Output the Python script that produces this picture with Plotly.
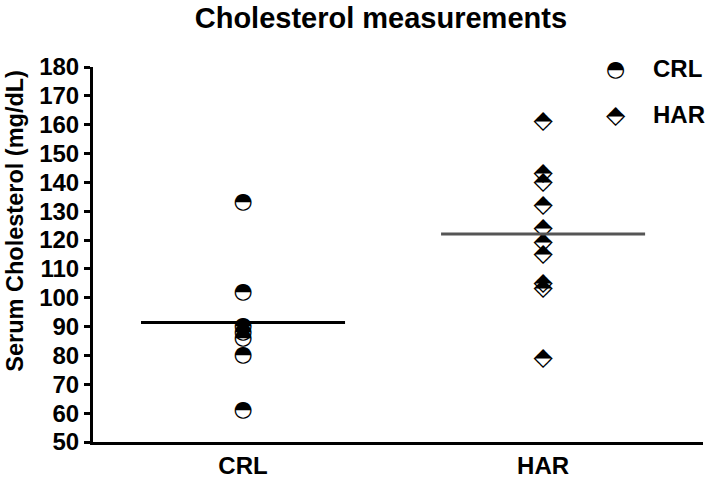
import plotly.graph_objects as go
import numpy as np

groups = ["CRL", "HAR"]
crl_values = [133, 102, 90, 88, 86, 80, 61]
har_values = [161, 143, 140, 132, 124, 119, 115, 105, 103, 79]
y_ticks = list(range(50, 181, 10))

glyphs = {"CRL": "\u25D3", "HAR": "\u2B18"}
glyph_sizes = {"CRL": 22, "HAR": 25}
line_colors = {"CRL": "#000000", "HAR": "#555555"}
series = {"CRL": crl_values, "HAR": har_values}

FONT = "Liberation Sans, Arial, sans-serif"
GLYPH_FONT = "DejaVu Sans"

fig = go.Figure()
for i, g in enumerate(groups):
    vals = series[g]
    fig.add_trace(go.Scatter(
        x=[i] * len(vals), y=vals, mode="text", text=[glyphs[g]] * len(vals),
        textfont=dict(family=GLYPH_FONT, size=glyph_sizes[g], color="black"),
        textposition="middle center", showlegend=False, hoverinfo="y"))
    m = float(np.mean(vals))
    fig.add_trace(go.Scatter(
        x=[i - 0.34, i + 0.34], y=[m, m], mode="lines",
        line=dict(color=line_colors[g], width=3), showlegend=False))

# legend drawn as annotations
for k, g in enumerate(groups):
    yy = 0.997 - k * 0.124
    fig.add_annotation(xref="paper", yref="paper", x=0.857, y=yy, text=glyphs[g],
                       showarrow=False, font=dict(family=GLYPH_FONT, size=glyph_sizes[g], color="black"),
                       xanchor="center", yanchor="middle")
    fig.add_annotation(xref="paper", yref="paper", x=0.915, y=yy, text="<b>%s</b>" % g,
                       showarrow=False, font=dict(family=FONT, size=24, color="black"),
                       xanchor="left", yanchor="middle")

fig.add_annotation(xref="paper", yref="paper", x=-0.128, y=0.59,
                   text="<b>Serum Cholesterol (mg/dL)</b>", textangle=-90, showarrow=False,
                   font=dict(family=FONT, size=23.5, color="black"),
                   xanchor="center", yanchor="middle")

fig.update_layout(
    width=708, height=484,
    margin=dict(l=93, r=5, t=67, b=39),
    paper_bgcolor="white", plot_bgcolor="white",
    title=dict(text="<b>Cholesterol measurements</b>", x=0.538, xanchor="center",
               y=0.963, yanchor="middle", font=dict(family=FONT, size=29, color="black")),
    xaxis=dict(range=[-0.5, 1.533], tickmode="array", tickvals=[0, 1], ticktext=["<b>%s</b>" % g for g in groups],
               showgrid=False, zeroline=False, showline=True, linecolor="black", linewidth=3,
               ticks="", tickfont=dict(family=FONT, size=24, color="black")),
    yaxis=dict(range=[50, 180], tickmode="array", tickvals=y_ticks,
               ticktext=["<b>%d</b>" % v for v in y_ticks],
               showgrid=False, zeroline=False, showline=True, linecolor="black", linewidth=3,
               ticks="outside", ticklen=6, tickwidth=3, tickcolor="black",
               tickfont=dict(family=FONT, size=24, color="black")),
)
fig.write_html("out.html", post_script="document.body.style.margin='0';",
               config={"displayModeBar": False})
